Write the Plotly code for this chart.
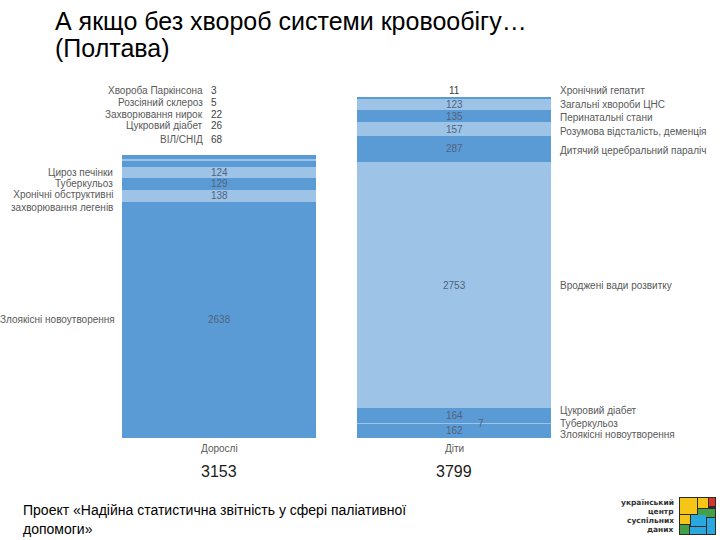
import plotly.graph_objects as go

# ---------------- data ----------------
categories = ["Дорослі", "Діти"]
totals = [3153, 3799]

adult_labels = ["Злоякісні новоутворення", "Хронічні обструктивні<br>захворювання легенів",
                "Туберкульоз", "Цироз печінки", "ВІЛ/СНІД", "Цукровий діабет",
                "Захворювання нирок", "Розсіяний склероз", "Хвороба Паркінсона"]
adult_values = [2638, 138, 129, 124, 68, 26, 22, 5, 3]

child_labels = ["Злоякісні новоутворення", "Туберкульоз", "Цукровий діабет",
                "Вроджені вади розвитку", "Дитячий церебральний параліч",
                "Розумова відсталість, деменція", "Перинатальні стани",
                "Загальні хвороби ЦНС", "Хронічний гепатит"]
child_values = [162, 7, 164, 2753, 287, 157, 135, 123, 11]

# ---------------- styling ----------------
DARK = "#5B9BD5"
LIGHT = "#9DC3E6"
W, H = 720, 540
MT, MB = 80, 102
PH = H - MT - MB
LBL_FONT = "Liberation Sans, Arial, sans-serif"
LBL_SIZE = 10
LBL_COLOR = "#595959"
VAL_COLOR = "#50637D"

# label pixel shifts (layout only)
adult_label_shift = [0, -5, 0, 0, 24, 34, 43.5, 54, 65]
child_label_shift = [-4, 0, 5, 0, -2, -2, -1, 0, 7.5]
adult_inside = [True, True, True, True, False, False, False, False, False]
child_inside = [True, False, True, True, True, True, True, True, False]


def py(p):  # pixel y -> paper y
    return (H - MB - p) / PH


def px(p):  # pixel x -> paper x
    return p / W


fig = go.Figure()
annotations = []
stacks = [(categories[0], adult_labels, adult_values, adult_label_shift, adult_inside),
          (categories[1], child_labels, child_values, child_label_shift, child_inside)]

for ci, (cat, labels, values, shifts, inside) in enumerate(stacks):
    base = 0
    for i, (lab, v) in enumerate(zip(labels, values)):
        color = DARK if i % 2 == 0 else LIGHT
        fig.add_trace(go.Bar(x=[cat], y=[v], marker=dict(color=color, line=dict(width=0)),
                             showlegend=False, hoverinfo="x+y+name", name=lab.replace("<br>", " ")))
        center = base + v / 2
        common = dict(showarrow=False, yanchor="middle")
        # value label
        if inside[i]:
            annotations.append(dict(x=cat, y=center, xref="x", yref="y", text=str(v), xanchor="center",
                                    font=dict(family=LBL_FONT, size=LBL_SIZE, color=VAL_COLOR), **common))
        elif ci == 0:
            annotations.append(dict(x=px(209), y=center, xref="paper", yref="y", text=str(v),
                                    xanchor="left", yshift=shifts[i],
                                    font=dict(family=LBL_FONT, size=LBL_SIZE, color="#404040"), **common))
        elif lab == "Туберкульоз":
            annotations.append(dict(x=px(481), y=center, xref="paper", yref="y", text=str(v),
                                    xanchor="center",
                                    font=dict(family=LBL_FONT, size=LBL_SIZE, color=VAL_COLOR), **common))
        else:
            annotations.append(dict(x=cat, y=center, xref="x", yref="y", text=str(v), xanchor="center",
                                    yshift=shifts[i],
                                    font=dict(family=LBL_FONT, size=LBL_SIZE, color="#404040"), **common))
        # category label
        if ci == 0:
            lx = 205 if not inside[i] else (117 if i == 0 else 115)
            annotations.append(dict(x=px(lx), y=center, xref="paper", yref="y", text=lab,
                                    xanchor="right", align="right", yshift=shifts[i],
                                    font=dict(family=LBL_FONT, size=LBL_SIZE, color=LBL_COLOR), **common))
        else:
            annotations.append(dict(x=px(558), y=center, xref="paper", yref="y", text=lab,
                                    xanchor="left", align="left", yshift=shifts[i],
                                    font=dict(family=LBL_FONT, size=LBL_SIZE, color=LBL_COLOR), **common))
        base += v

# category names and totals under bars
for cat, t in zip(categories, totals):
    annotations.append(dict(x=cat, y=py(448), xref="x", yref="paper", text=cat, showarrow=False,
                            xanchor="center", yanchor="middle",
                            font=dict(family=LBL_FONT, size=LBL_SIZE, color=LBL_COLOR)))
    annotations.append(dict(x=cat, y=py(471), xref="x", yref="paper", text=str(t), showarrow=False,
                            xanchor="center", yanchor="middle",
                            font=dict(family="Liberation Sans, Arial, sans-serif", size=16, color="#1a1a1a")))

# title
for txt, yy in [("А якщо без хвороб системи кровообігу…", 21), ("(Полтава)", 48)]:
    annotations.append(dict(x=px(53), y=py(yy), xref="paper", yref="paper", text=txt, xanchor="left",
                            yanchor="middle", showarrow=False,
                            font=dict(family="Liberation Sans, Arial, sans-serif", size=25, color="#000000")))
# footer
for txt, yy in [("Проект «Надійна статистична звітність у сфері паліативної", 510), ("допомоги»", 529)]:
    annotations.append(dict(x=px(21), y=py(yy), xref="paper", yref="paper", text=txt, xanchor="left",
                            yanchor="middle", showarrow=False,
                            font=dict(family="Liberation Sans, Arial, sans-serif", size=14, color="#000000")))
# logo text
for txt, yy in [("український", 502), ("центр", 511), ("суспільних", 520), ("даних", 529)]:
    annotations.append(dict(x=px(676), y=py(yy), xref="paper", yref="paper", text="<b>" + txt + "</b>",
                            xanchor="right", yanchor="middle", showarrow=False,
                            font=dict(family="DejaVu Sans, sans-serif", size=7.5, color="#333333")))

shapes = []


def rect(x0, x1, y0, y1, color):
    return dict(type="rect", xref="paper", yref="paper", x0=px(x0), x1=px(x1), y0=py(y1), y1=py(y0),
                fillcolor=color, line=dict(width=0), layer="above")


# logo box (decoration)
shapes.append(rect(679, 716, 497, 535, "#2b2b2b"))
shapes.append(rect(680, 697, 498, 514, "#F5C518"))
shapes.append(rect(698, 708, 498, 508, "#F5C518"))
shapes.append(rect(709, 715, 498, 506, "#D7342A"))
shapes.append(rect(698, 715, 509, 517, "#43A047"))
shapes.append(rect(680, 690, 515, 524, "#F5C518"))
shapes.append(rect(691, 706, 515, 526, "#29A8E0"))
shapes.append(rect(707, 715, 518, 534, "#29A8E0"))
shapes.append(rect(680, 689, 525, 534, "#43A047"))
shapes.append(rect(690, 706, 527, 534, "#29A8E0"))

fig.update_layout(
    width=W, height=H, barmode="stack", bargap=0.174,
    margin=dict(l=0, r=0, t=MT, b=MB, pad=0),
    plot_bgcolor="white", paper_bgcolor="white",
    xaxis=dict(domain=[101.5 / W, 571.5 / W], range=[-0.5, 1.5], showgrid=False, zeroline=False,
               showline=False, ticks="", showticklabels=False),
    yaxis=dict(range=[0, 4000], visible=False),
    annotations=annotations, shapes=shapes,
)
fig.write_html("out.html")
